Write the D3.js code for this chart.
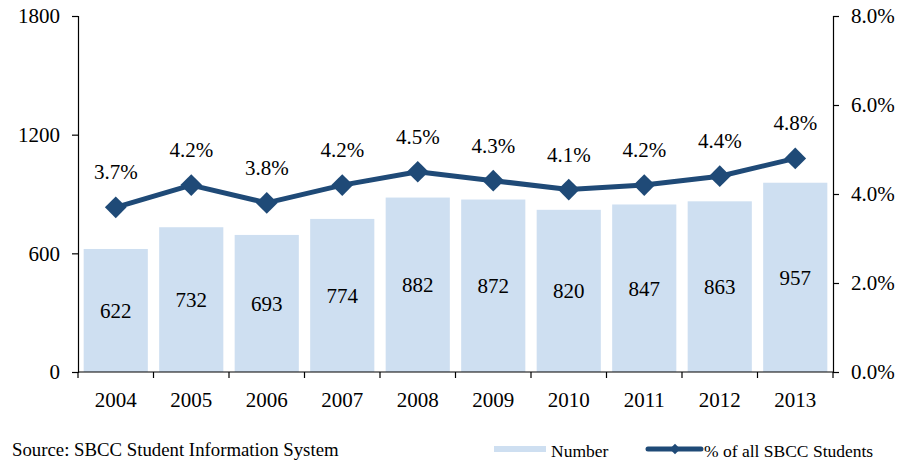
<!DOCTYPE html>
<html>
<head>
<meta charset="utf-8">
<script src="https://cdn.jsdelivr.net/npm/d3@7"></script>
<style>
  html, body { margin: 0; padding: 0; background: #ffffff; }
  svg { display: block; }
  text { font-family: "Liberation Serif", "Times New Roman", serif; fill: #000; }
</style>
</head>
<body>
<svg id="chart" width="899" height="460"></svg>
<script>
// Enrollment counts and share of all SBCC students, by year
const years = ["2004", "2005", "2006", "2007", "2008", "2009", "2010", "2011", "2012", "2013"];
const counts = [622, 732, 693, 774, 882, 872, 820, 847, 863, 957];
const shares = [3.7, 4.2, 3.8, 4.2, 4.5, 4.3, 4.1, 4.2, 4.4, 4.8];
const leftTicks = [0, 600, 1200, 1800];
const rightTicks = [0, 2, 4, 6, 8];

const barColor = "#cedff1";
const lineColor = "#1f4a77";

const svg = d3.select("#chart");
const plot = { left: 78, right: 833, top: 16, bottom: 372 };

const x = d3.scaleBand().domain(years).range([plot.left, plot.right]).paddingInner(0.15).paddingOuter(0.075);
const yL = d3.scaleLinear().domain([0, 1800]).range([plot.bottom, plot.top]);
const yR = d3.scaleLinear().domain([0, 8]).range([plot.bottom, plot.top]);

// Bars
svg.append("g").selectAll("rect").data(years).join("rect")
  .attr("x", d => x(d))
  .attr("width", x.bandwidth())
  .attr("y", (d, i) => yL(counts[i]))
  .attr("height", (d, i) => yL(0) - yL(counts[i]))
  .attr("fill", barColor);

// Count labels, centred inside each bar
svg.append("g").selectAll("text").data(years).join("text")
  .attr("x", d => x(d) + x.bandwidth() / 2)
  .attr("y", (d, i) => (yL(counts[i]) + yL(0)) / 2)
  .attr("dy", "0.35em")
  .attr("text-anchor", "middle")
  .style("font-size", "21px")
  .text((d, i) => counts[i]);

// Axes
const axisStyle = g => {
  g.select(".domain").attr("stroke", "#000").attr("stroke-width", 1.2);
  g.selectAll(".tick line").attr("stroke", "#000").attr("stroke-width", 1.2);
  g.selectAll(".tick text").style("font-size", "21px").style("font-family", "'Liberation Serif', serif");
};

svg.append("g").attr("transform", `translate(${plot.left},0)`)
  .call(d3.axisLeft(yL).tickValues(leftTicks).tickSizeOuter(0).tickSize(6).tickPadding(12).tickFormat(d3.format("d")))
  .call(axisStyle);

svg.append("g").attr("transform", `translate(${plot.right},0)`)
  .call(d3.axisRight(yR).tickValues(rightTicks).tickSizeOuter(0).tickSize(6).tickPadding(12).tickFormat(d => d.toFixed(1) + "%"))
  .call(axisStyle);

// Category axis with ticks between bands
const xAxis = svg.append("g").attr("transform", `translate(0,${plot.bottom})`);
xAxis.append("line").attr("x1", plot.left).attr("x2", plot.right).attr("stroke", "#000").attr("stroke-width", 1.2);
const bounds = d3.range(years.length + 1).map(i => plot.left + i * (plot.right - plot.left) / years.length);
xAxis.selectAll("line.tk").data(bounds).join("line").attr("class", "tk")
  .attr("x1", d => d).attr("x2", d => d).attr("y1", 0).attr("y2", 6)
  .attr("stroke", "#000").attr("stroke-width", 1.2);
xAxis.selectAll("text").data(years).join("text")
  .attr("x", d => x(d) + x.bandwidth() / 2)
  .attr("y", 35)
  .attr("text-anchor", "middle")
  .style("font-size", "21px")
  .text(d => d);

// Share line on the right axis
const cx = d => x(d) + x.bandwidth() / 2;
const line = d3.line().x((d, i) => cx(years[i])).y(d => yR(d));
svg.append("path").datum(shares)
  .attr("d", line)
  .attr("fill", "none")
  .attr("stroke", lineColor)
  .attr("stroke-width", 5)
  .attr("stroke-linejoin", "round");

const diamond = d3.symbol().type(d3.symbolDiamond2).size(300);
svg.append("g").selectAll("path").data(shares).join("path")
  .attr("transform", (d, i) => `translate(${cx(years[i])},${yR(d)})`)
  .attr("d", diamond)
  .attr("fill", lineColor);

svg.append("g").selectAll("text").data(shares).join("text")
  .attr("x", (d, i) => cx(years[i]))
  .attr("y", d => yR(d) - 28)
  .attr("text-anchor", "middle")
  .style("font-size", "21px")
  .text(d => d.toFixed(1) + "%");

// Source note
svg.append("text").attr("x", 12).attr("y", 456).style("font-size", "18.8px")
  .text("Source: SBCC Student Information System");

// Legend
const lg = svg.append("g");
lg.append("rect").attr("x", 494).attr("y", 446).attr("width", 52).attr("height", 6).attr("fill", barColor);
lg.append("text").attr("x", 551).attr("y", 457).style("font-size", "17.5px").text("Number");
lg.append("line").attr("x1", 648).attr("x2", 701).attr("y1", 449).attr("y2", 449)
  .attr("stroke", lineColor).attr("stroke-width", 5).attr("stroke-linecap", "round");
lg.append("path").attr("transform", "translate(675,449)").attr("d", d3.symbol().type(d3.symbolDiamond2).size(70)).attr("fill", lineColor);
lg.append("text").attr("x", 704).attr("y", 457).style("font-size", "17.5px").text("% of all SBCC Students");
</script>
</body>
</html>
